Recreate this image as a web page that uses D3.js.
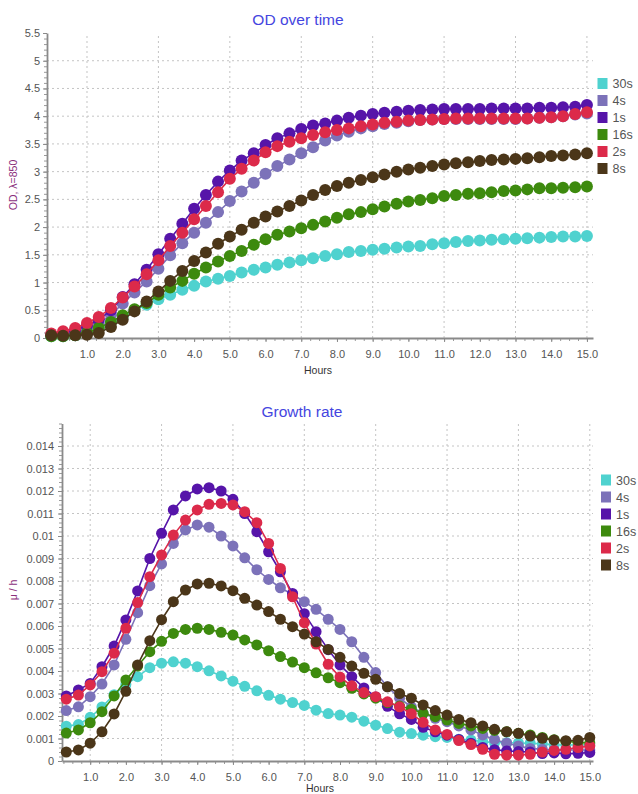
<!DOCTYPE html>
<html><head><meta charset="utf-8">
<script src="https://cdn.jsdelivr.net/npm/d3@7"></script>
<style>
body{margin:0;background:#fff;}
svg{display:block;font-family:"Liberation Sans",Arial,sans-serif;}
</style>
</head><body>
<svg id="c" width="638" height="794"></svg>
<script>
// ---------- data ----------
const seriesNames = ["30s","4s","1s","16s","2s","8s"];
const seriesColors = ["#4fd2cf","#7c72b9","#5614a9","#3d8a0e","#dc2a4a","#4b3619"];

const hoursOD = [0,0.33,0.67,1,1.33,1.67,2,2.33,2.67,3,3.33,3.67,4,4.33,4.67,5,5.33,5.67,6,6.33,6.67,7,7.33,7.67,8,8.33,8.67,9,9.33,9.67,10,10.33,10.67,11,11.33,11.67,12,12.33,12.67,13,13.33,13.67,14,14.33,14.67,15];
const hoursGR = [0.33,0.67,1,1.33,1.67,2,2.33,2.67,3,3.33,3.67,4,4.33,4.67,5,5.33,5.67,6,6.33,6.67,7,7.33,7.67,8,8.33,8.67,9,9.33,9.67,10,10.33,10.67,11,11.33,11.67,12,12.33,12.67,13,13.33,13.67,14,14.33,14.67,15];

const od30s = [0.03,0.03,0.05,0.09,0.17,0.28,0.39,0.50,0.60,0.70,0.78,0.87,0.94,1.02,1.07,1.12,1.18,1.23,1.27,1.32,1.36,1.40,1.44,1.48,1.51,1.55,1.57,1.59,1.61,1.63,1.65,1.66,1.69,1.71,1.73,1.75,1.76,1.77,1.78,1.79,1.80,1.81,1.82,1.83,1.83,1.84];
const od4s  = [0.05,0.07,0.10,0.16,0.26,0.42,0.62,0.82,1.02,1.25,1.49,1.71,1.90,2.08,2.27,2.47,2.64,2.80,2.96,3.10,3.22,3.33,3.44,3.56,3.65,3.72,3.78,3.82,3.86,3.88,3.91,3.93,3.94,3.95,3.95,3.95,3.95,3.95,3.95,3.95,3.96,3.97,3.98,4.00,4.03,4.05];
const od1s  = [0.05,0.08,0.14,0.22,0.33,0.50,0.74,0.97,1.23,1.51,1.79,2.06,2.33,2.58,2.82,3.02,3.20,3.33,3.48,3.60,3.69,3.77,3.83,3.87,3.92,3.97,4.01,4.04,4.06,4.08,4.10,4.11,4.12,4.13,4.13,4.13,4.13,4.14,4.14,4.14,4.14,4.15,4.15,4.16,4.17,4.20];
const od16s = [0.03,0.03,0.05,0.09,0.18,0.29,0.41,0.52,0.63,0.78,0.91,1.03,1.16,1.27,1.38,1.48,1.57,1.68,1.78,1.86,1.92,1.98,2.04,2.10,2.17,2.23,2.27,2.32,2.37,2.42,2.46,2.49,2.52,2.56,2.58,2.60,2.61,2.63,2.65,2.66,2.68,2.70,2.70,2.71,2.72,2.73];
const od2s  = [0.08,0.12,0.18,0.27,0.38,0.54,0.73,0.93,1.15,1.40,1.66,1.90,2.14,2.38,2.63,2.87,3.05,3.20,3.35,3.46,3.54,3.60,3.66,3.71,3.75,3.78,3.82,3.85,3.88,3.90,3.92,3.93,3.94,3.95,3.96,3.96,3.96,3.96,3.96,3.96,3.96,3.97,3.98,4.00,4.04,4.07];
const od8s  = [0.05,0.04,0.05,0.06,0.09,0.20,0.33,0.48,0.66,0.84,1.03,1.21,1.39,1.54,1.70,1.83,1.95,2.08,2.19,2.28,2.38,2.48,2.58,2.67,2.74,2.80,2.85,2.90,2.95,3.00,3.04,3.07,3.10,3.13,3.15,3.17,3.19,3.21,3.22,3.23,3.24,3.26,3.28,3.29,3.31,3.33];

const gr30s = [0.00155,0.00162,0.00194,0.00240,0.00295,0.00340,0.00375,0.00415,0.00435,0.00441,0.00435,0.00419,0.00401,0.00378,0.00355,0.00332,0.00312,0.00292,0.00275,0.00260,0.00247,0.00226,0.00211,0.00204,0.00195,0.00177,0.00159,0.00144,0.00128,0.00122,0.00115,0.00108,0.00105,0.00097,0.00093,0.00086,0.00082,0.00081,0.00080,0.00079,0.00076,0.00072,0.00071,0.00071,0.00071];
const gr4s  = [0.00224,0.00241,0.00286,0.00342,0.00427,0.00541,0.00659,0.00779,0.00876,0.00967,0.01027,0.01049,0.01039,0.01000,0.00956,0.00903,0.00850,0.00807,0.00770,0.00740,0.00708,0.00674,0.00630,0.00585,0.00530,0.00461,0.00393,0.00330,0.00279,0.00240,0.00212,0.00190,0.00175,0.00156,0.00138,0.00116,0.00096,0.00079,0.00067,0.00056,0.00052,0.00049,0.00049,0.00049,0.00049];
const gr1s  = [0.00289,0.00316,0.00345,0.00419,0.00511,0.00627,0.00756,0.00900,0.01012,0.01116,0.01178,0.01209,0.01215,0.01200,0.01163,0.01100,0.01019,0.00930,0.00841,0.00745,0.00655,0.00575,0.00495,0.00427,0.00375,0.00325,0.00285,0.00243,0.00210,0.00185,0.00150,0.00130,0.00115,0.00096,0.00079,0.00060,0.00050,0.00045,0.00042,0.00040,0.00033,0.00036,0.00032,0.00034,0.00038];
const gr16s = [0.00124,0.00138,0.00170,0.00219,0.00289,0.00360,0.00422,0.00486,0.00532,0.00567,0.00585,0.00590,0.00585,0.00572,0.00560,0.00538,0.00516,0.00490,0.00464,0.00440,0.00415,0.00392,0.00370,0.00348,0.00323,0.00298,0.00279,0.00259,0.00244,0.00230,0.00212,0.00197,0.00182,0.00167,0.00156,0.00145,0.00136,0.00130,0.00123,0.00116,0.00105,0.00095,0.00088,0.00082,0.00080];
const gr2s  = [0.00275,0.00293,0.00338,0.00397,0.00479,0.00590,0.00704,0.00819,0.00916,0.01004,0.01071,0.01116,0.01141,0.01145,0.01138,0.01108,0.01059,0.00967,0.00856,0.00730,0.00615,0.00520,0.00430,0.00373,0.00334,0.00304,0.00286,0.00263,0.00241,0.00210,0.00172,0.00138,0.00118,0.00091,0.00073,0.00052,0.00030,0.00026,0.00026,0.00030,0.00040,0.00047,0.00052,0.00060,0.00067];
const gr8s  = [0.00040,0.00049,0.00079,0.00130,0.00209,0.00310,0.00427,0.00535,0.00628,0.00708,0.00760,0.00787,0.00790,0.00778,0.00757,0.00723,0.00693,0.00664,0.00630,0.00597,0.00564,0.00530,0.00496,0.00461,0.00422,0.00390,0.00363,0.00330,0.00300,0.00279,0.00249,0.00224,0.00204,0.00185,0.00170,0.00156,0.00141,0.00130,0.00123,0.00111,0.00101,0.00093,0.00090,0.00092,0.00105];

const hourTicks = [1,2,3,4,5,6,7,8,9,10,11,12,13,14,15];
const hourGrid = [1,3,5,7,9,11,13,15];
const odTicks = [0,0.5,1,1.5,2,2.5,3,3.5,4,4.5,5,5.5];
const odGrid = [0.5,1,1.5,2,2.5,3,3.5,4,4.5,5];
const grTicks = [0,0.001,0.002,0.003,0.004,0.005,0.006,0.007,0.008,0.009,0.010,0.011,0.012,0.013,0.014];
const grGrid = [0.001,0.002,0.003,0.004,0.005,0.006,0.007,0.008,0.009,0.010,0.011,0.012,0.013,0.014];

// ---------- drawing ----------
const svg = d3.select("#c");
const FONT = '"Liberation Sans", Arial, sans-serif';

function chart(o){
  const g = svg.append("g");
  const x = d3.scaleLinear().domain(o.xDomain).range([o.left, o.right]);
  const y = d3.scaleLinear().domain(o.yDomain).range([o.bottom, o.top]);

  // grid
  g.append("g").selectAll("line").data(hourGrid).join("line")
    .attr("x1", d=>x(d)).attr("x2", d=>x(d)).attr("y1", o.bottom).attr("y2", o.top)
    .attr("stroke","#c4c4c4").attr("stroke-width",1).attr("stroke-dasharray","2,3");
  g.append("g").selectAll("line").data(o.gridY).join("line")
    .attr("x1", o.left).attr("x2", o.right).attr("y1", d=>y(d)).attr("y2", d=>y(d))
    .attr("stroke","#c4c4c4").attr("stroke-width",1).attr("stroke-dasharray","2,3");

  // minor ticks
  const xMinor = d3.range(Math.ceil(o.xDomain[0]*4), Math.floor(o.xDomain[1]*4)+1).map(d=>d/4);
  const gxm = g.append("g").attr("transform",`translate(0,${o.bottom})`)
    .call(d3.axisBottom(x).tickValues(xMinor).tickSize(3).tickSizeOuter(0).tickFormat(""));
  const yMinor = d3.range(0, Math.round(o.yDomain[1]/o.yMinorStep)+1).map(d=>d*o.yMinorStep);
  const gym = g.append("g").attr("transform",`translate(${o.left},0)`)
    .call(d3.axisLeft(y).tickValues(yMinor).tickSize(3).tickSizeOuter(0).tickFormat(""));
  [gxm,gym].forEach(a=>{a.select(".domain").remove(); a.selectAll("line").attr("stroke","#9a9a9a");});

  // major axes
  const gx = g.append("g").attr("transform",`translate(0,${o.bottom})`)
    .call(d3.axisBottom(x).tickValues(hourTicks).tickSize(4).tickPadding(8).tickSizeOuter(0).tickFormat(d3.format(".1f")));
  const gy = g.append("g").attr("transform",`translate(${o.left},0)`)
    .call(d3.axisLeft(y).tickValues(o.yTicks).tickSize(4).tickPadding(o.yPad).tickSizeOuter(0).tickFormat(d=>String(+d.toFixed(3))));
  [gx,gy].forEach(a=>{
    a.select(".domain").attr("stroke","#8a8a8a").attr("stroke-width",1.8);
    a.selectAll(".tick line").attr("stroke","#8a8a8a");
    a.selectAll("text").attr("fill","#555").attr("font-size",11).attr("font-family",FONT);
  });

  // series (legend order, later on top)
  o.series.forEach((vals,i)=>{
    const pts = o.hours.map((h,k)=>[h, vals[k]]);
    g.append("path").datum(pts)
      .attr("d", d3.line().x(d=>x(d[0])).y(d=>y(d[1])))
      .attr("fill","none").attr("stroke",seriesColors[i]).attr("stroke-width",1.6);
    g.append("g").selectAll("circle").data(pts).join("circle")
      .attr("cx", d=>x(d[0])).attr("cy", d=>y(d[1])).attr("r", o.r)
      .attr("fill", seriesColors[i]);
  });

  // titles
  g.append("text").attr("x", o.titleX).attr("y", o.titleY).attr("text-anchor","middle")
    .attr("font-size",15.5).attr("fill","#4545e0").attr("font-family",FONT).text(o.title);
  g.append("text").attr("x", o.xTitleX).attr("y", o.xTitleY).attr("text-anchor","middle")
    .attr("font-size",10.5).attr("fill","#333").attr("font-family",FONT).text("Hours");
  g.append("text").attr("transform",`translate(${o.yTitleX},${o.yTitleY}) rotate(-90)`)
    .attr("text-anchor","middle").attr("font-size",10.5).attr("fill","#8a2f7c")
    .attr("font-family",FONT).text(o.yTitle);

  // legend
  const lg = g.append("g").selectAll("g").data(seriesNames).join("g")
    .attr("transform",(d,i)=>`translate(${o.legX},${o.legY + i*17})`);
  lg.append("rect").attr("x",0).attr("y",-5.5).attr("width",10).attr("height",11)
    .attr("fill",(d,i)=>seriesColors[i]);
  lg.append("text").attr("x",15).attr("y",4.5).attr("font-size",12.5).attr("fill","#555")
    .attr("font-family",FONT).text(d=>d);
}

chart({
  xDomain:[-0.12,15.17], left:47, right:593,
  yDomain:[0,5.5], bottom:338, top:33,
  yTicks:odTicks, gridY:odGrid, yMinorStep:0.1, yPad:3,
  hours:hoursOD, series:[od30s,od4s,od1s,od16s,od2s,od8s], r:6,
  title:"OD over time", titleX:298, titleY:25,
  xTitleX:318, xTitleY:374,
  yTitle:"OD, λ=850", yTitleX:17, yTitleY:185,
  legX:597.5, legY:83.5
});

chart({
  xDomain:[0.21,15.09], left:62, right:593,
  yDomain:[0,0.015], bottom:761, top:423.5,
  yTicks:grTicks, gridY:grGrid, yMinorStep:0.0002, yPad:4,
  hours:hoursGR, series:[gr30s,gr4s,gr1s,gr16s,gr2s,gr8s], r:5.5,
  title:"Growth rate", titleX:302, titleY:417,
  xTitleX:320, xTitleY:792,
  yTitle:"μ / h", yTitleX:17, yTitleY:590,
  legX:601, legY:480
});
</script>
</body></html>
